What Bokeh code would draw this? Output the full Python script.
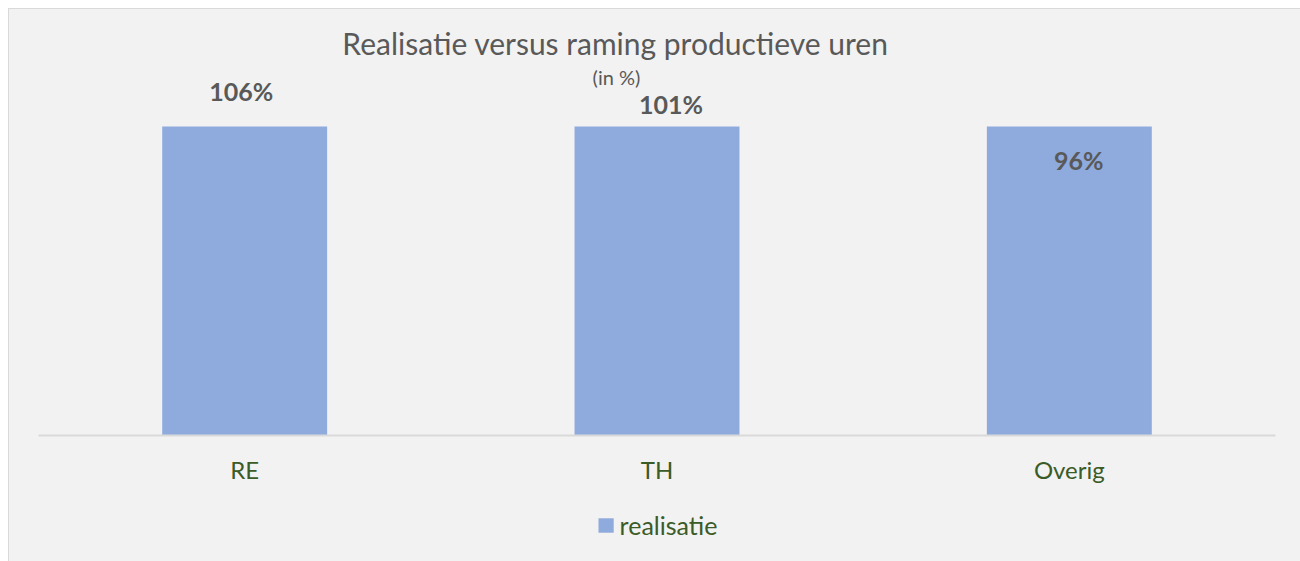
from bokeh.plotting import figure
from bokeh.models import ColumnDataSource, FactorRange, Range1d, Legend, LegendItem, Label
from bokeh.layouts import column
from bokeh.core.properties import value
from bokeh.embed import file_html
from bokeh.resources import INLINE
import numpy as np

# ---- data ----
categories = ["RE", "TH", "Overig"]
realisatie = [1.06, 1.01, 0.96]
series_name = "realisatie"
title_text = "Realisatie versus raming productieve uren"
subtitle_text = "(in %)"

# ---- styling / layout ----
AXIS_MAX = 0.90                 # value axis maximum of the original chart (bars are cut off there)
label_dx = [-3.5, 14, 9.5]      # manual nudges of the data labels (pixels)
label_dy = [-36, -22.5, 33.5]
FONT = "Lato"
BAR = "#8faadc"
GREEN = "#3b5b27"
GREY = "#595959"
BG = "#f2f2f2"
EDGE = "1px solid #d9d9d9"

frame_top_px, frame_bottom_px, axis_max_px = 14, 435, 126
y_end = AXIS_MAX * (frame_bottom_px - frame_top_px) / (frame_bottom_px - axis_max_px)

vals = np.array(realisatie)
src = ColumnDataSource(dict(
    cat=categories,
    top=np.minimum(vals, AXIS_MAX),
    val=vals,
    lab=[f"{v:.0%}" for v in vals],
    lab_y=[AXIS_MAX] * len(vals),
    dx=label_dx,
    dy=label_dy,
))

p = figure(
    x_range=FactorRange(*categories, range_padding=0.0),
    y_range=Range1d(0, y_end),
    frame_width=1237, frame_height=421,
    min_border_left=29, min_border_right=25, min_border_top=5, min_border_bottom=50,
    output_backend="svg", toolbar_location=None,
    background_fill_color=BG, border_fill_color=BG, outline_line_color=None,
)

bars = p.vbar(x="cat", top="top", bottom=0, width=0.4, source=src,
              fill_color=BAR, line_color=None)

p.text(x="cat", y="lab_y", text="lab", source=src, x_offset="dx", y_offset="dy",
       text_align="center", text_baseline="middle",
       text_font=value(FONT), text_font_style="bold", text_font_size="25px", text_color=GREY)

p.xgrid.visible = False
p.ygrid.visible = False
p.yaxis.visible = False
xa = p.xaxis[0]
xa.axis_line_color = "#d9d9d9"
xa.axis_line_width = 2
xa.major_tick_line_color = None
xa.minor_tick_line_color = None
xa.major_label_text_font = FONT
xa.major_label_text_font_size = "24px"
xa.major_label_text_color = GREEN
xa.major_label_standoff = 13

p.add_layout(Label(x=577, y=393, x_units="screen", y_units="screen", text=title_text,
                   text_align="center", text_baseline="middle",
                   text_font=FONT, text_font_size="30px", text_color=GREY))
p.add_layout(Label(x=578, y=359, x_units="screen", y_units="screen", text=subtitle_text,
                   text_align="center", text_baseline="middle",
                   text_font=FONT, text_font_size="20px", text_color=GREY))

# legend strip underneath the chart; its key uses the same series styling
pl = figure(
    x_range=FactorRange(*categories), y_range=Range1d(2, 3),   # series lies outside this view
    width=1291, height=76,
    min_border_left=10, min_border_right=0, min_border_top=0, min_border_bottom=0,
    output_backend="svg", toolbar_location=None,
    background_fill_color=BG, border_fill_color=BG, outline_line_color=None,
)
pl.axis.visible = False
pl.grid.visible = False
key = pl.vbar(x="cat", top="top", bottom=0, width=0.4, source=src,
              fill_color=BAR, line_color=None)

legend = Legend(items=[LegendItem(label=series_name, renderers=[key])],
                location="bottom_center", orientation="horizontal",
                glyph_width=19, glyph_height=18, label_standoff=5,
                label_text_font=FONT, label_text_font_size="25px", label_text_color=GREEN,
                background_fill_alpha=0, border_line_color=None, margin=22, padding=6)
pl.add_layout(legend, "center")

layout = column(p, pl, spacing=0, margin=(8, 0, 0, 8),
                styles={"background-color": BG, "border-left": EDGE, "border-top": EDGE})
open("out.html", "w").write(file_html(layout, INLINE))
